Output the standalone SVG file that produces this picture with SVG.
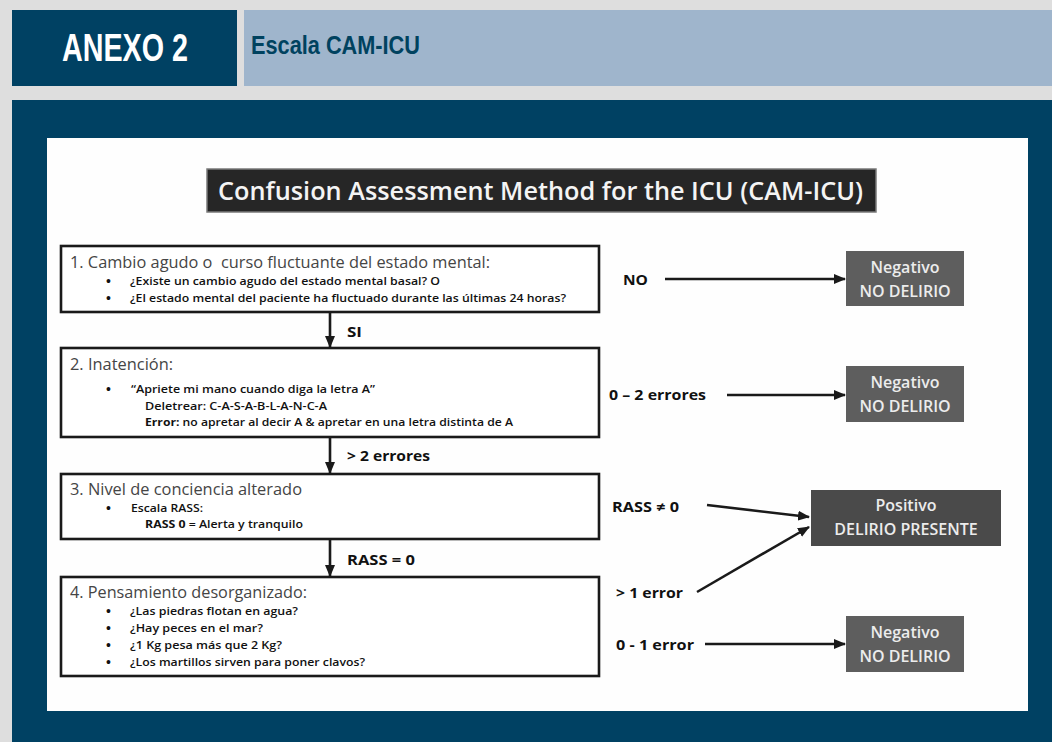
<svg xmlns="http://www.w3.org/2000/svg" width="1052" height="742" viewBox="0 0 1052 742">
<style>
.hd{font-family:"Liberation Sans",Arial,sans-serif;font-weight:bold}
.t{font-family:"Open Sans","Noto Sans",sans-serif}
.h{font-size:16px;fill:#454545}
.b{font-size:11px;font-weight:600;fill:#111}
.dot{font-family:"Liberation Sans",Arial,sans-serif;font-size:14px;fill:#111}
.lbl{font-size:13.5px;font-weight:bold;fill:#111}
.res{font-size:16px;font-weight:600;fill:#ececec;text-anchor:middle}
.box{fill:#fff;stroke:#1a1a1a;stroke-width:2.6}
.ln{stroke:#1a1a1a;stroke-width:2.6;fill:none}
</style>
<defs>
<marker id="ah" markerUnits="userSpaceOnUse" markerWidth="12" markerHeight="10" refX="11" refY="5" orient="auto">
<path d="M0,0 L12,5 L0,10 Z" fill="#1a1a1a"/>
</marker>
</defs>
<rect x="0" y="0" width="1052" height="742" fill="#dedede"/>
<g id="header">
<rect x="12" y="10" width="225" height="76" fill="#004163"/>
<text class="hd" x="62" y="61" font-size="38" fill="#fff" textLength="126" lengthAdjust="spacingAndGlyphs">ANEXO 2</text>
<rect x="244" y="10" width="808" height="76" fill="#9fb5cc"/>
<text class="hd" x="251" y="54" font-size="25" fill="#00425f" textLength="169" lengthAdjust="spacingAndGlyphs">Escala CAM-ICU</text>
</g>
<rect x="12" y="100" width="1040" height="642" fill="#004163"/>
<rect x="47" y="138" width="981" height="573" fill="#fefefe"/>
<g id="title">
<rect x="207" y="169" width="669" height="43" fill="#262626" stroke="#7a7a7a" stroke-width="1.5"/>
<text class="t" x="218" y="200" font-size="25" font-weight="600" fill="#f4f4f4" textLength="645" lengthAdjust="spacingAndGlyphs">Confusion Assessment Method for the ICU (CAM-ICU)</text>
</g>
<g id="step1">
<rect class="box" x="61" y="246" width="538" height="66"/>
<text class="t h" x="70" y="268" textLength="420" lengthAdjust="spacingAndGlyphs" xml:space="preserve">1. Cambio agudo o  curso fluctuante del estado mental:</text>
<text class="dot" x="106" y="286">•</text>
<text class="t b" x="130" y="285" textLength="310" lengthAdjust="spacingAndGlyphs">¿Existe un cambio agudo del estado mental basal? O</text>
<text class="dot" x="106" y="303">•</text>
<text class="t b" x="130" y="302" textLength="436" lengthAdjust="spacingAndGlyphs">¿El estado mental del paciente ha fluctuado durante las últimas 24 horas?</text>
</g>
<g id="step2">
<rect class="box" x="61" y="348" width="538" height="89"/>
<text class="t h" x="70" y="370" textLength="103" lengthAdjust="spacingAndGlyphs">2. Inatención:</text>
<text class="dot" x="106" y="394">•</text>
<text class="t b" x="131" y="393" textLength="244" lengthAdjust="spacingAndGlyphs">“Apriete mi mano cuando diga la letra A”</text>
<text class="t b" x="145" y="410" textLength="182" lengthAdjust="spacingAndGlyphs">Deletrear: C-A-S-A-B-L-A-N-C-A</text>
<text class="t b" x="145" y="426" textLength="368" lengthAdjust="spacingAndGlyphs"><tspan font-weight="bold">Error:</tspan> no apretar al decir A &amp; apretar en una letra distinta de A</text>
</g>
<g id="step3">
<rect class="box" x="61" y="474" width="538" height="65"/>
<text class="t h" x="70" y="495" textLength="232" lengthAdjust="spacingAndGlyphs">3. Nivel de conciencia alterado</text>
<text class="dot" x="106" y="513">•</text>
<text class="t b" x="131" y="512" textLength="72" lengthAdjust="spacingAndGlyphs">Escala RASS:</text>
<text class="t b" x="145" y="528" textLength="158" lengthAdjust="spacingAndGlyphs"><tspan font-weight="bold">RASS 0</tspan> = Alerta y tranquilo</text>
</g>
<g id="step4">
<rect class="box" x="61" y="577" width="538" height="99"/>
<text class="t h" x="70" y="598" textLength="237" lengthAdjust="spacingAndGlyphs">4. Pensamiento desorganizado:</text>
<text class="dot" x="106" y="616">•</text>
<text class="t b" x="130" y="615" textLength="168" lengthAdjust="spacingAndGlyphs">¿Las piedras flotan en agua?</text>
<text class="dot" x="106" y="633">•</text>
<text class="t b" x="130" y="632" textLength="133" lengthAdjust="spacingAndGlyphs">¿Hay peces en el mar?</text>
<text class="dot" x="106" y="650">•</text>
<text class="t b" x="130" y="649" textLength="152" lengthAdjust="spacingAndGlyphs">¿1 Kg pesa más que 2 Kg?</text>
<text class="dot" x="106" y="667">•</text>
<text class="t b" x="130" y="666" textLength="235" lengthAdjust="spacingAndGlyphs">¿Los martillos sirven para poner clavos?</text>
</g>
<g id="neg1">
<rect x="846" y="251" width="118" height="55" fill="#5e5e5e"/>
<text class="t res" x="905" y="273">Negativo</text>
<text class="t res" x="905" y="297">NO DELIRIO</text>
</g>
<g id="neg2">
<rect x="846" y="366" width="118" height="56" fill="#5e5e5e"/>
<text class="t res" x="905" y="388">Negativo</text>
<text class="t res" x="905" y="412">NO DELIRIO</text>
</g>
<g id="pos">
<rect x="811" y="490" width="190" height="56" fill="#4a4a4a"/>
<text class="t res" x="906" y="511">Positivo</text>
<text class="t res" x="906" y="535">DELIRIO PRESENTE</text>
</g>
<g id="neg3">
<rect x="846" y="616" width="118" height="56" fill="#5e5e5e"/>
<text class="t res" x="905" y="638">Negativo</text>
<text class="t res" x="905" y="662">NO DELIRIO</text>
</g>
<g id="connectors">
<line class="ln" x1="330" y1="312" x2="330" y2="347" marker-end="url(#ah)"/>
<line class="ln" x1="330" y1="437" x2="330" y2="473" marker-end="url(#ah)"/>
<line class="ln" x1="330" y1="539" x2="330" y2="576" marker-end="url(#ah)"/>
<line class="ln" x1="665" y1="279" x2="845" y2="279" marker-end="url(#ah)"/>
<line class="ln" x1="727" y1="395" x2="845" y2="395" marker-end="url(#ah)"/>
<line class="ln" x1="707" y1="505" x2="809" y2="517" marker-end="url(#ah)"/>
<line class="ln" x1="697" y1="592" x2="809" y2="527" marker-end="url(#ah)"/>
<line class="ln" x1="705" y1="644" x2="845" y2="644" marker-end="url(#ah)"/>
<text class="t lbl" x="347" y="337" textLength="15" lengthAdjust="spacingAndGlyphs">SI</text>
<text class="t lbl" x="347" y="461" textLength="83" lengthAdjust="spacingAndGlyphs">&gt; 2 errores</text>
<text class="t lbl" x="347" y="565" textLength="68" lengthAdjust="spacingAndGlyphs">RASS = 0</text>
<text class="t lbl" x="623" y="285" textLength="25" lengthAdjust="spacingAndGlyphs">NO</text>
<text class="t lbl" x="609" y="400" textLength="97" lengthAdjust="spacingAndGlyphs">0 – 2 errores</text>
<text class="t lbl" x="612" y="512" textLength="67" lengthAdjust="spacingAndGlyphs">RASS ≠ 0</text>
<text class="t lbl" x="616" y="598" textLength="67" lengthAdjust="spacingAndGlyphs">&gt; 1 error</text>
<text class="t lbl" x="616" y="650" textLength="78" lengthAdjust="spacingAndGlyphs">0 - 1 error</text>
</g>
</svg>
